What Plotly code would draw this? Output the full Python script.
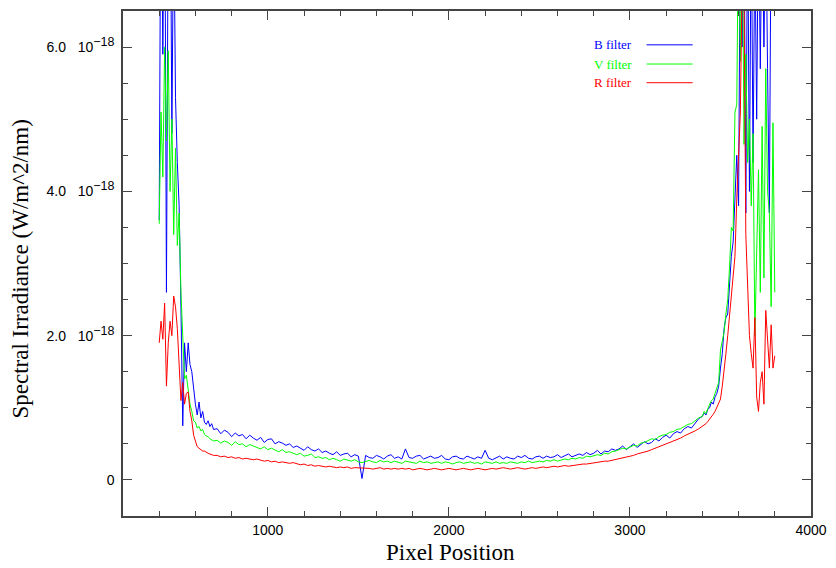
import plotly.graph_objects as go

# ---------------- data (irradiance in units of 1e-18 W/m^2/nm) ----------------
x_left = list(range(400, 701, 10))
x_mid = list(range(720, 3381, 20))
x_right = list(range(3400, 3801, 10))
pixel = x_left + x_mid + x_right

B_left = [3.6, 9.0, 5.9, 9.0, 2.6, 8.0, 9.0, 4.8, 8.0, 5.3, 4.4, 3.8, 2.4, 0.75, 1.9, 1.5,
          1.9, 1.6, 1.5, 1.25, 1.05, 0.9, 1.08, 0.86, 0.95, 0.80, 0.77, 0.82, 0.74, 0.78, 0.70]
V_left = [3.55, 5.1, 4.2, 6.0, 4.7, 5.95, 4.0, 5.0, 3.4, 4.6, 3.25, 3.7, 2.6, 2.1, 1.4, 1.45,
          1.27, 1.05, 0.95, 0.82, 0.80, 0.72, 0.74, 0.68, 0.70, 0.63, 0.61, 0.60, 0.57, 0.55, 0.54]
R_left = [1.9, 2.2, 1.95, 2.45, 1.3, 1.9, 2.2, 2.0, 2.55, 2.4, 2.1, 1.6, 1.1, 1.35, 1.05, 1.2,
          1.22, 0.95, 0.82, 0.62, 0.52, 0.46, 0.44, 0.42, 0.40, 0.40, 0.38, 0.37, 0.36, 0.35, 0.34]

B_mid = [0.71, 0.64, 0.69, 0.66, 0.60, 0.65, 0.61, 0.63, 0.57, 0.62,
         0.58, 0.55, 0.59, 0.52, 0.56, 0.57, 0.50, 0.53, 0.51, 0.48,
         0.50, 0.45, 0.47, 0.44, 0.41, 0.46, 0.42, 0.40, 0.43, 0.38,
         0.40, 0.37, 0.35, 0.39, 0.34, 0.36, 0.37, 0.32, 0.35, 0.33,
         0.02, 0.34, 0.31, 0.30, 0.34, 0.32, 0.29, 0.33, 0.35, 0.30,
         0.32, 0.29, 0.43, 0.31, 0.30, 0.33, 0.34, 0.29, 0.31, 0.33,
         0.30, 0.31, 0.34, 0.29, 0.28, 0.32, 0.33, 0.30, 0.29, 0.33,
         0.31, 0.29, 0.32, 0.30, 0.41, 0.30, 0.28, 0.31, 0.33, 0.29,
         0.32, 0.30, 0.29, 0.33, 0.31, 0.34, 0.30, 0.29, 0.32, 0.33,
         0.30, 0.33, 0.31, 0.32, 0.35, 0.31, 0.33, 0.36, 0.32, 0.34,
         0.36, 0.34, 0.38, 0.35, 0.37, 0.41, 0.36, 0.40, 0.39, 0.43,
         0.41, 0.43, 0.47, 0.42, 0.46, 0.50, 0.45, 0.49, 0.53, 0.50,
         0.52, 0.57, 0.54, 0.59, 0.62, 0.58, 0.64, 0.67, 0.65, 0.71,
         0.74, 0.72, 0.79, 0.85]
V_mid = [0.55, 0.51, 0.54, 0.52, 0.48, 0.53, 0.49, 0.50, 0.46, 0.49,
         0.47, 0.45, 0.43, 0.46, 0.42, 0.44, 0.41, 0.39, 0.42, 0.38,
         0.39, 0.37, 0.35, 0.37, 0.33, 0.34, 0.36, 0.31, 0.32, 0.30,
         0.31, 0.28, 0.30, 0.28, 0.26, 0.29, 0.27, 0.26, 0.28, 0.25,
         0.24, 0.26, 0.27, 0.25, 0.24, 0.27, 0.25, 0.26, 0.24, 0.26,
         0.25, 0.23, 0.26, 0.25, 0.24, 0.23, 0.26, 0.24, 0.25, 0.23,
         0.24, 0.25, 0.23, 0.25, 0.24, 0.22, 0.24, 0.25, 0.23, 0.24,
         0.25, 0.23, 0.24, 0.22, 0.25, 0.24, 0.23, 0.25, 0.23, 0.24,
         0.23, 0.25, 0.24, 0.23, 0.25, 0.24, 0.26, 0.24, 0.25, 0.26,
         0.25, 0.27, 0.26, 0.28, 0.26, 0.28, 0.29, 0.28, 0.30, 0.29,
         0.31, 0.30, 0.33, 0.32, 0.34, 0.35, 0.34, 0.37, 0.36, 0.39,
         0.40, 0.42, 0.44, 0.43, 0.46, 0.48, 0.47, 0.51, 0.52, 0.54,
         0.57, 0.56, 0.60, 0.62, 0.63, 0.66, 0.67, 0.70, 0.71, 0.74,
         0.77, 0.78, 0.82, 0.86]
R_mid = [0.34, 0.32, 0.33, 0.31, 0.32, 0.30, 0.31, 0.29, 0.30, 0.29,
         0.28, 0.29, 0.27, 0.26, 0.27, 0.25, 0.26, 0.24, 0.25, 0.24,
         0.23, 0.24, 0.22, 0.21, 0.22, 0.20, 0.21, 0.19, 0.20, 0.19,
         0.18, 0.19, 0.18, 0.17, 0.18, 0.17, 0.18, 0.16, 0.17, 0.17,
         0.16, 0.17, 0.16, 0.15, 0.16, 0.17, 0.15, 0.16, 0.15, 0.16,
         0.15, 0.16, 0.15, 0.16, 0.14, 0.15, 0.16, 0.15, 0.14, 0.15,
         0.16, 0.15, 0.14, 0.15, 0.16, 0.15, 0.14, 0.15, 0.16, 0.15,
         0.14, 0.15, 0.16, 0.15, 0.14, 0.15, 0.16, 0.15, 0.16, 0.17,
         0.16, 0.15, 0.16, 0.17, 0.16, 0.15, 0.16, 0.17, 0.16, 0.17,
         0.18, 0.17, 0.18, 0.19, 0.18, 0.19, 0.20, 0.19, 0.20, 0.21,
         0.21, 0.22, 0.22, 0.23, 0.24, 0.24, 0.25, 0.26, 0.26, 0.27,
         0.28, 0.29, 0.30, 0.31, 0.33, 0.34, 0.36, 0.37, 0.39, 0.40,
         0.42, 0.44, 0.45, 0.47, 0.49, 0.51, 0.53, 0.56, 0.58, 0.61,
         0.63, 0.66, 0.68, 0.71]

B_right = [0.88, 0.93, 0.90, 0.98, 1.0, 1.08, 1.05, 1.15, 1.2, 1.3, 1.55, 1.75, 2.1, 2.25,
           2.3, 2.8, 3.1, 3.3, 3.9, 4.5, 3.8, 8.0, 6.0, 8.0, 3.7, 8.0, 4.0, 8.0, 4.4, 7.5,
           5.0, 8.0, 5.7, 8.0, 6.0, 8.0, 5.7, 3.7, 8.0, 8.0, None]
V_right = [0.88, 0.95, 0.92, 1.0, 1.05, 1.1, 1.12, 1.2, 1.28, 1.35, 1.8, 1.95, 2.05, 2.3,
           2.5, 2.95, 3.5, 3.45, 5.1, 5.2, 8.0, 5.8, 8.0, 4.65, 5.9, 4.4, 5.0, 3.8, 4.8, 2.0,
           3.4, 4.3, 2.6, 4.9, 2.8, 5.7, 4.0, 3.7, 2.4, 4.95, 2.6]
R_right = [0.74, 0.76, 0.78, 0.81, 0.84, 0.87, 0.91, 0.95, 1.0, 1.06, 1.12, 1.3, 1.5, 1.75,
           2.0, 2.3, 2.55, 2.85, 3.1, 3.9, 4.6, 5.1, 7.0, 6.8, 3.4, 2.55, 2.0, 1.75, 1.55, 2.25,
           1.15, 0.95, 1.35, 1.5, 1.05, 2.35, 1.85, 1.55, 2.15, 1.55, 1.72]

series_names = ["B filter", "V filter", "R filter"]
series_colors = ["#0000ff", "#00ff00", "#ff0000"]
series_values = [B_left + B_mid + B_right, V_left + V_mid + V_right, R_left + R_mid + R_right]

NB = "\u00a0"
EXP = "10<sup><span style='font-size:12.5px'>\u221218</span></sup>"
y_tickvals = [0, 2, 4, 6]
y_ticktext = ["0", "2.0" + NB * 3 + EXP, "4.0" + NB * 3 + EXP, "6.0" + NB * 3 + EXP]

# ---------------- figure ----------------
fig = go.Figure()
for name, color, vals in zip(series_names, series_colors, series_values):
    fig.add_trace(go.Scatter(x=pixel, y=vals, mode="lines", name=name,
                             line=dict(color=color, width=1), showlegend=False))

# legend drawn as text + short lines (text left of line, coloured like the series)
leg_y = [0.933, 0.895, 0.858]
for name, color, yy in zip(series_names, series_colors, leg_y):
    fig.add_annotation(x=0.743, y=yy, xref="paper", yref="paper", text=name, showarrow=False,
                       xanchor="right", yanchor="middle",
                       font=dict(family="Liberation Serif", size=13, color=color))
    fig.add_shape(type="line", xref="paper", yref="paper", x0=0.761, x1=0.828, y0=yy, y1=yy,
                  line=dict(color=color, width=1))

# axis titles (placed as in the reference)
fig.add_annotation(x=0.476, y=-0.073, xref="paper", yref="paper", text="Pixel Position",
                   showarrow=False, xanchor="center", yanchor="middle",
                   font=dict(family="Liberation Serif", size=23, color="black"))
fig.add_annotation(x=-0.149, y=0.489, xref="paper", yref="paper",
                   text="Spectral Irradiance (W/m^2/nm)", textangle=-90,
                   showarrow=False, xanchor="center", yanchor="middle",
                   font=dict(family="Liberation Serif", size=23, color="black"))

axis_common = dict(showline=True, linecolor="#444444", linewidth=1.5, mirror="allticks",
                   ticks="inside", tickcolor="#444444", ticklen=9, tickwidth=1,
                   showgrid=False, zeroline=False,
                   tickfont=dict(family="Liberation Sans", size=14, color="black"))

fig.update_xaxes(range=[200, 4000], tickmode="linear", tick0=0, dtick=1000,
                 minor=dict(ticks="inside", tickmode="linear", tick0=0, dtick=200, ticklen=5,
                            tickcolor="#444444", showgrid=False),
                 **axis_common)
fig.update_yaxes(range=[-0.5, 6.5], tickmode="array", tickvals=y_tickvals, ticktext=y_ticktext,
                 minor=dict(ticks="inside", tickmode="linear", tick0=0, dtick=0.5, ticklen=5,
                            tickcolor="#444444", showgrid=False),
                 ticklabelstandoff=4,
                 **axis_common)

fig.update_layout(width=836, height=568, margin=dict(l=123, r=22, t=9, b=52),
                  plot_bgcolor="white", paper_bgcolor="white", showlegend=False)

fig.write_html("out.html")
